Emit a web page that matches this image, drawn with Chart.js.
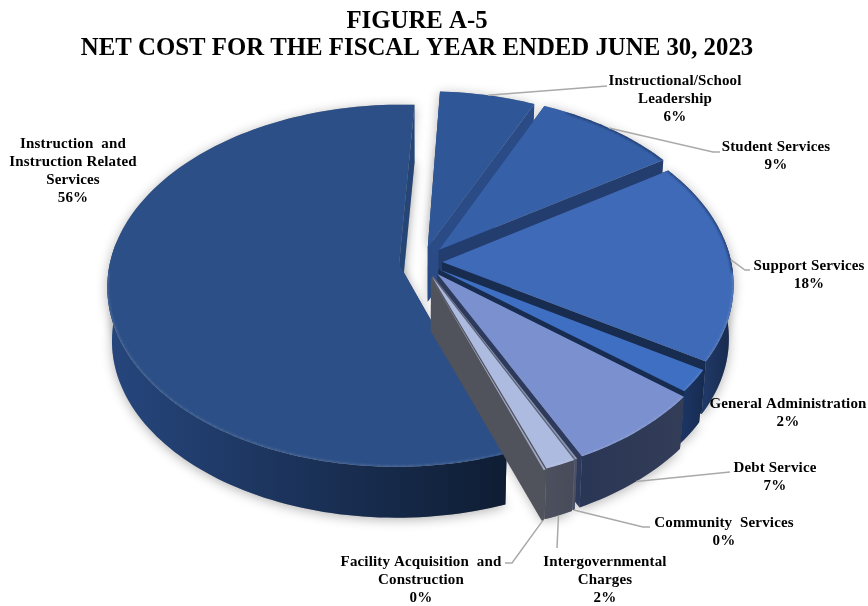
<!DOCTYPE html>
<html>
<head>
<meta charset="utf-8">
<title>Net cost</title>
<script src="https://cdn.jsdelivr.net/npm/chart.js@4"></script>
<style>
  html, body { margin: 0; padding: 0; background: #fff; }
  canvas { display: block; }
</style>
</head>
<body>
<canvas id="myChart" width="868" height="606"></canvas>
<script>
const categories = [
  ["Instruction  and", "Instruction Related", "Services"],
  ["Instructional/School", "Leadership"],
  ["Student Services"],
  ["Support Services"],
  ["General Administration"],
  ["Debt Service"],
  ["Community  Services"],
  ["Intergovernmental", "Charges"],
  ["Facility Acquisition  and", "Construction"],
];
const netCost = [56.3, 6, 9, 18, 2, 7, 0.1, 1.5, 0.1];

// how far each wedge is pulled out of the pie, as a share of the radius
const explode = [0.08, 0.085, 0.09, 0.07, 0.07, 0.085, 0.085, 0.087, 0.09];

const topColors = ["#2c4f87", "#2f5696", "#3660a7", "#3e6ab7", "#3f6fc2", "#7a90cf", "#8a94b0", "#aebbe0", "#9fa8c4"];
const rimColors = [
  ["#26467d", "#0f1d33"], ["#2a4b85", "#2a4b85"], ["#233d6e", "#233d6e"],
  ["#1f3865", "#18294b"], ["#1b3461", "#172c52"], ["#2a3655", "#333d58"],
  ["#4a4f62", "#4a4f62"], ["#4c4f5e", "#474b5a"], ["#50525c", "#50525c"],
];
const wallColors = ["#264577", "#2a4b85", "#233d6e", "#182c50", "#182c50", "#2d3a5c", "#5a6178", "#50525c", "#50525c"];

// label placement: text centre, first line y, leader elbow points, and whether
// the leader starts at the top edge (0) or the bottom edge (1) of the wedge
const labelLayout = [
  { x: 73, y: 144, leader: [] },
  { x: 675, y: 81, drop: 0, leader: [[607, 86]] },
  { x: 776, y: 147, drop: 0, leader: [[713, 152], [720, 152]] },
  { x: 809, y: 266, drop: 0, leader: [[745, 270], [750, 270]] },
  { x: 788, y: 404, leader: [] },
  { x: 775, y: 468, drop: 1, leader: [[730, 472]] },
  { x: 724, y: 523, drop: 1, leader: [[643, 527], [650, 527]] },
  { x: 605, y: 562, drop: 1, leader: [[557, 548]] },
  { x: 421, y: 562, drop: 1, leader: [[512, 563], [505, 563]] },
];

// perspective view of the disc
const RX = 289, RY = 178, PERSP = 0.119, DEPTH = 54, SHRINK = 0.985;
const SHIFT_X = 5, SHIFT_Y = 0.5;
const SERIF = "'Liberation Serif', 'Times New Roman', serif";

function project(area, u, v, h) {
  const s = (1 / (1 - PERSP * v)) * (1 - (1 - SHRINK) * h);
  return [area.cx + RX * u * s, area.cy + RY * v * s + DEPTH * h];
}

// rim points of one wedge, at level h (0 top face, 1 bottom face)
function rimPoints(area, el, ex, h) {
  const mid = (el.startAngle + el.endAngle) / 2;
  const ou = ex * Math.cos(mid), ov = ex * Math.sin(mid);
  const steps = Math.max(4, Math.ceil((el.endAngle - el.startAngle) * 40));
  const pts = [];
  for (let i = 0; i <= steps; i++) {
    const a = el.startAngle + ((el.endAngle - el.startAngle) * i) / steps;
    pts.push({ p: project(area, ou + Math.cos(a), ov + Math.sin(a), h), v: Math.sin(a), u: Math.cos(a) });
  }
  return { pts, tip: project(area, ou, ov, h) };
}

function tracePoly(ctx, pts) {
  ctx.beginPath();
  pts.forEach((p, i) => (i ? ctx.lineTo(p[0], p[1]) : ctx.moveTo(p[0], p[1])));
  ctx.closePath();
}

function drawWedge(ctx, area, el, i) {
  const top = rimPoints(area, el, explode[i], 0);
  const bot = rimPoints(area, el, explode[i], 1);
  const topPts = top.pts.map((q) => q.p);
  const botPts = bot.pts.map((q) => q.p);
  const n = topPts.length - 1;

  // flat cut walls
  ctx.fillStyle = wallColors[i];
  tracePoly(ctx, [top.tip, topPts[n], botPts[n], bot.tip]);
  ctx.fill();
  tracePoly(ctx, [top.tip, topPts[0], botPts[0], bot.tip]);
  ctx.fill();

  // curved outside of the wedge, only the part turned towards the viewer
  const seenTop = top.pts.filter((q) => q.v > -0.15).map((q) => q.p);
  const seenBot = bot.pts.filter((q) => q.v > -0.15).map((q) => q.p);
  if (seenTop.length > 1) {
    const xs = seenTop.map((p) => p[0]);
    const grad = ctx.createLinearGradient(Math.min(...xs), 0, Math.max(...xs), 0);
    grad.addColorStop(0, rimColors[i][0]);
    grad.addColorStop(1, rimColors[i][1]);
    ctx.fillStyle = grad;
    tracePoly(ctx, seenTop.concat(seenBot.slice().reverse()));
    ctx.fill();
  }

  // top face
  const face = [top.tip].concat(topPts);
  ctx.fillStyle = topColors[i];
  tracePoly(ctx, face);
  ctx.fill();

  // soft bevel along the outer edge of the face
  ctx.save();
  tracePoly(ctx, face);
  ctx.clip();
  ctx.filter = "blur(1px)";
  ctx.lineWidth = 3;
  ctx.lineCap = "round";
  for (let k = 0; k < n; k++) {
    const q = top.pts[k];
    const front = q.v > 0.05;
    if (!front && q.u < 0.5) continue;
    ctx.strokeStyle = front ? "rgba(255,255,255,0.09)" : "rgba(15,30,60,0.35)";
    ctx.beginPath();
    ctx.moveTo(topPts[k][0], topPts[k][1]);
    ctx.lineTo(topPts[k + 1][0], topPts[k + 1][1]);
    ctx.stroke();
  }
  ctx.restore();
}

const pie3d = {
  id: "pie3d",
  beforeDatasetDraw(chart) {
    const ctx = chart.ctx;
    const arcs = chart.getDatasetMeta(0).data;
    const area = { cx: arcs[0].x + SHIFT_X, cy: arcs[0].y + SHIFT_Y };

    // drop shadow under the whole pie first
    ctx.save();
    ctx.shadowColor = "rgba(0,0,0,0.3)";
    ctx.shadowBlur = 12;
    ctx.shadowOffsetY = 2;
    ctx.fillStyle = "#999";
    arcs.forEach((el, i) => {
      const top = rimPoints(area, el, explode[i], 0);
      const bot = rimPoints(area, el, explode[i], 1);
      tracePoly(ctx, [top.tip].concat(top.pts.map((q) => q.p)));
      ctx.fill();
      tracePoly(ctx, [bot.tip].concat(bot.pts.map((q) => q.p)));
      ctx.fill();
    });
    ctx.restore();

    // biggest wedge first, the rest run from back to front
    arcs.forEach((el, i) => drawWedge(ctx, area, el, i));
    return false;
  },
  afterDatasetsDraw(chart) {
    const ctx = chart.ctx;
    const arcs = chart.getDatasetMeta(0).data;
    const area = { cx: arcs[0].x + SHIFT_X, cy: arcs[0].y + SHIFT_Y };
    const total = netCost.reduce((a, b) => a + b, 0);

    ctx.save();
    ctx.strokeStyle = "#a9a9a9";
    ctx.lineWidth = 1.5;
    labelLayout.forEach((lab, i) => {
      if (!lab.leader.length) return;
      const el = arcs[i];
      const mid = (el.startAngle + el.endAngle) / 2;
      const start = project(area, explode[i] * Math.cos(mid) + Math.cos(mid), explode[i] * Math.sin(mid) + Math.sin(mid), lab.drop);
      ctx.beginPath();
      ctx.moveTo(start[0], start[1]);
      lab.leader.forEach((p) => ctx.lineTo(p[0], p[1]));
      ctx.stroke();
    });

    ctx.fillStyle = "#000";
    ctx.font = "bold 15px " + SERIF;
    ctx.letterSpacing = "0.15px";
    ctx.textAlign = "center";
    ctx.textBaseline = "middle";
    labelLayout.forEach((lab, i) => {
      const lines = categories[i].concat(Math.round((netCost[i] / total) * 100) + "%");
      lines.forEach((line, k) => ctx.fillText(line, lab.x, lab.y + k * 18));
    });
    ctx.restore();
  },
};

const myChart = new Chart(document.getElementById("myChart"), {
  type: "pie",
  data: {
    labels: categories.map((c) => c.join(" ")),
    datasets: [{ data: netCost, backgroundColor: topColors, borderWidth: 0 }],
  },
  options: {
    responsive: false,
    animation: false,
    rotation: 160.2,
    layout: { padding: { right: 34, bottom: 145 } },
    plugins: {
      legend: { display: false },
      tooltip: { enabled: false },
      title: {
        display: true,
        text: ["FIGURE A-5", "NET COST FOR THE FISCAL YEAR ENDED JUNE 30, 2023"],
        color: "#000",
        font: { family: SERIF, size: 24.8, weight: "bold", lineHeight: 1.09 },
        padding: { top: 8, bottom: 0 },
      },
    },
  },
  plugins: [pie3d],
});
</script>
</body>
</html>
